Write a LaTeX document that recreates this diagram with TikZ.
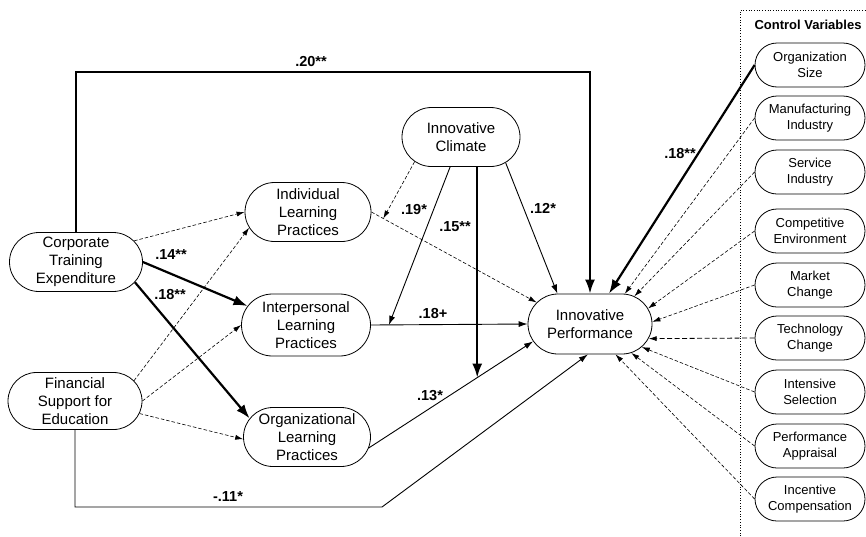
\documentclass[tikz,border=0pt]{standalone}
\usepackage{fontspec}
\setmainfont{Liberation Sans}
\usetikzlibrary{shapes.misc,arrows.meta,calc}
\begin{document}
\begin{tikzpicture}[x=1pt,y=-1pt,
  box/.style={rounded rectangle, draw, line width=0.8pt, inner sep=0pt, align=center, font=\fontsize{15}{18}\selectfont},
  cbox/.style={rounded rectangle, draw, line width=0.8pt, inner sep=0pt, align=center, minimum width=110pt, minimum height=44pt, font=\fontsize{13}{15.5}\selectfont},
  lab/.style={font=\fontsize{14.5}{16}\selectfont\bfseries, inner sep=1pt},
  thickarr/.style={line width=2.2pt, -{Latex[length=14pt,width=10pt]}},
  thinarr/.style={line width=0.9pt, -{Latex[length=9pt,width=6pt]}},
  dasharr/.style={line width=0.6pt, dash pattern=on 3.5pt off 2pt, -{Latex[length=8pt,width=5pt]}},
  longdasharr/.style={line width=0.8pt, dash pattern=on 5pt off 2.5pt, -{Latex[length=8pt,width=5pt]}},
]
\useasboundingbox (0,0) rectangle (866,536);

% control variables frame
\draw[dotted, line width=0.7pt] (740,536) -- (740,10) -- (866,10);
\node[font=\fontsize{13}{15}\selectfont\bfseries] (cvt) at (808,25) {Control Variables};

% main nodes
\node[box, minimum width=133pt, minimum height=59pt] (cte) at (76,262) {Corporate\\Training\\Expenditure};
\node[box, minimum width=134pt, minimum height=57pt] (fse) at (75,401) {Financial\\Support for\\Education};
\node[box, minimum width=126pt, minimum height=59pt] (ilp) at (308,212) {Individual\\Learning\\Practices};
\node[box, minimum width=129pt, minimum height=62pt] (ppl) at (306,325) {Interpersonal\\Learning\\Practices};
\node[box, minimum width=127pt, minimum height=59pt] (olp) at (307,437) {Organizational\\Learning\\Practices};
\node[box, minimum width=118pt, minimum height=59pt] (ic) at (461,137) {Innovative\\Climate};
\node[box, minimum width=124pt, minimum height=60pt] (ip) at (590,324) {Innovative\\Performance};

% control nodes
\node[cbox] (c1) at (810,65) {Organization\\Size};
\node[cbox] (c2) at (810,118) {Manufacturing\\Industry};
\node[cbox] (c3) at (810,172) {Service\\Industry};
\node[cbox] (c4) at (810,231) {Competitive\\Environment};
\node[cbox] (c5) at (810,285) {Market\\Change};
\node[cbox] (c6) at (810,338) {Technology\\Change};
\node[cbox] (c7) at (810,392) {Intensive\\Selection};
\node[cbox] (c8) at (810,446) {Performance\\Appraisal};
\node[cbox] (c9) at (810,499) {Incentive\\Compensation};

% helper coordinates
\coordinate (t1) at (330,72);
\coordinate (b1) at (382,507);

% connectors
\draw[thickarr] (cte.north) |- (t1) -| (ip.north);
\draw[dasharr] (cte.20) -- (ilp.west);
\draw[thickarr] (cte.east) -- (ppl.162);
\draw[thickarr] (cte.341) -- (olp.162);
\draw[dasharr] (fse.19) -- (ilp.195);
\draw[dasharr] (fse.east) -- (ppl.west);
\draw[dasharr] (fse.349) -- (olp.182);
\draw[thinarr] (fse.south) |- (b1) -- (ip.266);
\draw[dasharr] (ilp.east) -- coordinate[pos=0.072] (m1) (ip.158);
\draw[thinarr] (ppl.east) -- coordinate[pos=0.115] (m2) (ip.west);
\draw[thinarr] (olp.350) -- coordinate[pos=0.66] (m3) (ip.197);
\draw[dasharr] (ic.208) -- (m1);
\draw[thinarr] (ic.250) -- (m2);
\draw[thickarr] (m3 |- ic.south) -- (m3);
\draw[thinarr] (ic.330) -- (ip.137);

\draw[thickarr] (c1.west) -- (ip.58);
\draw[dasharr] (c2.west) -- (ip.41);
\draw[dasharr] (c3.west) -- (ip.32);
\draw[dasharr] (c4.west) -- (ip.15);
\draw[dasharr] (c5.west) -- (ip.2);
\draw[longdasharr] (c6.west) -- (ip.346);
\draw[dasharr] (c7.west) -- (ip.336);
\draw[dasharr] (c8.west) -- (ip.325);
\draw[dasharr] (c9.west) -- (ip.310);

% labels
\node[lab] (l20) at (311,62) {.20**};
\node[lab] (l14) at (171,255) {.14**};
\node[lab] (l18a) at (170,295) {.18**};
\node[lab] (l19) at (414,210) {.19*};
\node[lab] (l15) at (455,227) {.15**};
\node[lab] (l12) at (543,208) {.12*};
\node[lab] (l18p) at (433,314) {.18+};
\node[lab] (l13) at (430,396) {.13*};
\node[lab] (l11) at (228,497) {-.11*};
\node[lab] (l18b) at (680,154) {.18**};
\end{tikzpicture}
\end{document}
